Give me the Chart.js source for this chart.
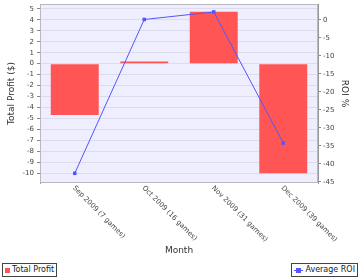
<!DOCTYPE html>
<html>
<head>
<meta charset="UTF-8">
<title>Profit by Month</title>
<script src="https://cdn.jsdelivr.net/npm/chart.js@4.4.0/dist/chart.umd.min.js"></script>
<style>
   body { margin: 0; background: #fff; }
   #wrap { position: relative; width: 360px; height: 280px; }
   .legend {
      position: absolute; top: 263px; height: 14px; box-sizing: border-box;
      border: 1px solid #444; background: #fff; padding: 0 2px;
      font: 8px "DejaVu Sans", sans-serif; color: #222; line-height: 12px; white-space: nowrap;
   }
   .legend span { display: inline-block; vertical-align: middle; }
</style>
</head>
<body>
<div id="wrap">
   <canvas id="chart" width="360" height="280"></canvas>
   <div class="legend" id="legLeft" style="left:2px"></div>
   <div class="legend" id="legRight" style="right:2px"></div>
</div>
<script>
   // values
   const months = ["Sep 2009 (7 games)", "Oct 2009 (16 games)", "Nov 2009 (31 games)", "Dec 2009 (39 games)"];
   const totalProfit = [-4.7, 0.2, 4.75, -10.0];
   const averageRoi = [-42.6, 0.1, 2.2, -34.2];

   const barColor = "#ff5555";
   const lineColor = "#5555ff";
   const font = "DejaVu Sans";

   // lavender plot background + outline
   const plotBg = {
      id: "plotBg",
      beforeDraw(chart) {
         const { ctx, chartArea: a } = chart;
         ctx.save();
         ctx.fillStyle = "#eeeeff";
         ctx.fillRect(a.left, a.top, a.right - a.left, a.bottom - a.top);
         ctx.restore();
      },
      afterDraw(chart) {
         const { ctx, chartArea: a } = chart;
         ctx.save();
         ctx.strokeStyle = "#b8b8c0";
         ctx.lineWidth = 1;
         ctx.strokeRect(a.left + 0.5, a.top + 0.5, a.right - a.left - 1, a.bottom - a.top - 1);
         ctx.restore();
      }
   };

   // x labels run down to the right, starting at the tick
   const slantLabels = {
      id: "slantLabels",
      afterDraw(chart) {
         const { ctx } = chart;
         const x = chart.scales.x;
         ctx.save();
         ctx.font = "7px '" + font + "'";
         ctx.fillStyle = "#444";
         ctx.textAlign = "left";
         ctx.textBaseline = "middle";
         months.forEach((m, i) => {
            ctx.save();
            ctx.translate(x.getPixelForValue(i) - 1, x.top + 4);
            ctx.rotate(Math.PI / 4);
            ctx.fillText(m, 0, 0);
            ctx.restore();
         });
         ctx.restore();
      }
   };

   const onlyWhole = s => { s.ticks = s.ticks.filter(t => Number.isInteger(t.value)); };

   const chart = new Chart(document.getElementById("chart"), {
      data: {
         labels: months,
         datasets: [
            {
               type: "line", label: "Average ROI", data: averageRoi, yAxisID: "y1", order: 0,
               borderColor: lineColor, backgroundColor: lineColor, borderWidth: 1,
               pointStyle: "rect", pointRadius: 2.5, pointBorderWidth: 0
            },
            {
               type: "bar", label: "Total Profit", data: totalProfit, yAxisID: "y", order: 1,
               backgroundColor: barColor, borderWidth: 0,
               categoryPercentage: 1, barPercentage: 0.69
            }
         ]
      },
      options: {
         responsive: false,
         animation: false,
         layout: { padding: { top: 3, left: 0, right: 0, bottom: 0 } },
         plugins: { legend: { display: false }, tooltip: { enabled: false } },
         scales: {
            x: {
               grid: { display: false },
               border: { display: false },
               ticks: { display: false },
               title: {
                  display: true, text: "Month", color: "#333",
                  font: { family: font, size: 9 }, padding: { top: 0, bottom: 24 }
               },
               afterFit(s) { s.height = 97; s.paddingLeft = 0; s.paddingRight = 0; }
            },
            y: {
               position: "left",
               min: -10.9, max: 5.45,
               ticks: { stepSize: 1, includeBounds: false, color: "#444", font: { family: font, size: 7 }, padding: 3 },
               grid: { color: "#dcdcec", tickLength: 3, tickColor: "#888" },
               border: { color: "#999" },
               title: {
                  display: true, text: "Total Profit ($)", color: "#333",
                  font: { family: font, size: 9 }, padding: { top: 6, bottom: 0 }
               },
               afterBuildTicks: onlyWhole,
               afterFit(s) { s.width = 40; s.paddingTop = 0; s.paddingBottom = 0; }
            },
            y1: {
               position: "right",
               min: -45.3, max: 4.4,
               ticks: { stepSize: 5, includeBounds: false, color: "#444", font: { family: font, size: 7 }, padding: 2 },
               grid: { drawOnChartArea: false, tickLength: 3, tickColor: "#888" },
               border: { color: "#999" },
               title: {
                  display: true, text: "ROI %", color: "#333",
                  font: { family: font, size: 9 }, padding: { top: 10, bottom: 0 }
               },
               afterBuildTicks: onlyWhole,
               afterFit(s) { s.width = 42; s.paddingTop = 0; s.paddingBottom = 0; }
            }
         }
      },
      plugins: [plotBg, slantLabels]
   });

   // two separate legend boxes, as in the original
   document.getElementById("legLeft").innerHTML =
      '<span style="width:5px;height:5px;background:' + barColor + ';margin-right:2px"></span><span>' +
      chart.data.datasets[1].label + '</span>';
   document.getElementById("legRight").innerHTML =
      '<span style="position:relative;width:9px;height:5px;margin-right:2px">' +
      '<span style="position:absolute;left:0;top:2px;width:9px;height:1px;background:' + lineColor + '"></span>' +
      '<span style="position:absolute;left:2px;top:0;width:5px;height:5px;background:' + lineColor + '"></span></span><span>' +
      chart.data.datasets[0].label + '</span>';
</script>
</body>
</html>
